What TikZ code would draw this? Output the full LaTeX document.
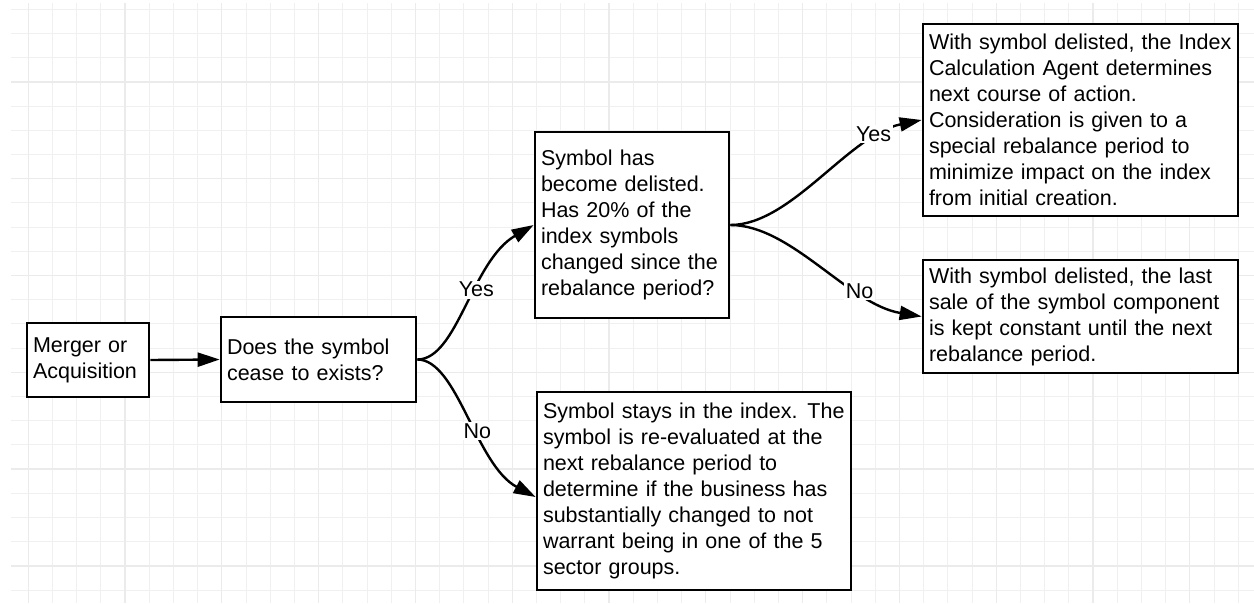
\documentclass[tikz,border=0pt]{standalone}
\usepackage{fontspec}
\setmainfont{Liberation Sans}
\usetikzlibrary{arrows.meta}
\tikzset{
  every picture/.style={line width=2.4pt},
  sgrid/.style={line width=1pt, draw=black!6},
  sgridmajor/.style={line width=1.3pt, draw=black!8},
  sbox/.style={rectangle, draw=black, fill=white, line width=2.7pt,
               inner xsep=6pt, inner ysep=4pt, align=left,
               font=\fontsize{21.5}{26}\selectfont,
               execute at begin node={\hyphenpenalty=10000\exhyphenpenalty=10000}},
  sflow/.style={-{Triangle[length=22pt, width=14pt]}, line width=2.4pt},
  slabel/.style={fill=white, inner sep=1.5pt, font=\fontsize{21.5}{26}\selectfont},
}

\begin{document}
\begin{tikzpicture}[x=1pt, y=-1pt]
  \useasboundingbox (0,0) rectangle (1254,603);
  \fill[white] (0,0) rectangle (1254,603);
  % background grid
  \foreach \k in {0,...,50}
    \draw[sgrid] ({28.2+24.2*\k},3) -- ({28.2+24.2*\k},603);
  \foreach \j in {0,...,24}
    \draw[sgrid] (11,{9.3+24.2*\j}) -- (1254,{9.3+24.2*\j});
  \foreach \k in {0,4,...,48}
    \draw[sgridmajor] ({28.2+24.2*\k},3) -- ({28.2+24.2*\k},603);
  \foreach \j in {3,7,...,23}
    \draw[sgridmajor] (11,{9.3+24.2*\j}) -- (1254,{9.3+24.2*\j});

  \node[sbox, text width=110pt, minimum height=74pt] (merger) at (88,360) {Merger or\\Acquisition};
  \node[sbox, text width=183pt, minimum height=85pt] (exists) at (318.5,359.5) {Does the symbol\\cease to exists?};
  \node[sbox, text width=182pt, minimum height=186pt] (delisted) at (632,225)
    {Symbol has\\become delisted.\\Has 20\% of the\\index symbols\\changed since the\\rebalance period?};
  \node[sbox, text width=303pt, minimum height=192pt] (agent) at (1080.5,120)
    {With symbol delisted, the Index\\Calculation Agent determines\\next course of action.\\Consideration is given to a\\special rebalance period to\\minimize impact on the index\\from initial creation.};
  \node[sbox, text width=302pt, minimum height=198pt] (stays) at (694,491)
    {\mbox{Symbol stays in the index.\hspace{10pt}The}\\symbol is re-evaluated at the\\next rebalance period to\\determine if the business has\\substantially changed to not\\warrant being in one of the 5\\sector groups.};
  \node[sbox, text width=303pt, minimum height=113pt] (constant) at (1080.5,316.5)
    {With symbol delisted, the last\\sale of the symbol component\\is kept constant until the next\\rebalance period.};

  \draw[sflow] (merger.east) -- (exists.west);
  \draw[sflow] (exists.east) .. controls +(40,0) and +(-62,36) .. node[slabel, pos=0.59] {Yes} (delisted.west);
  \draw[sflow] (exists.east) .. controls +(40,0) and +(-60,-32) .. node[slabel, pos=0.58] {No} ([yshift=-6pt]stays.west);
  \draw[sflow] (delisted.east) .. controls +(61,0) and +(-73,15) .. node[slabel, pos=0.77, yshift=6pt] {Yes} (agent.west);
  \draw[sflow] (delisted.east) .. controls +(61,0) and +(-73,-12) .. node[slabel, pos=0.7] {No} (constant.west);
\end{tikzpicture}
\end{document}
